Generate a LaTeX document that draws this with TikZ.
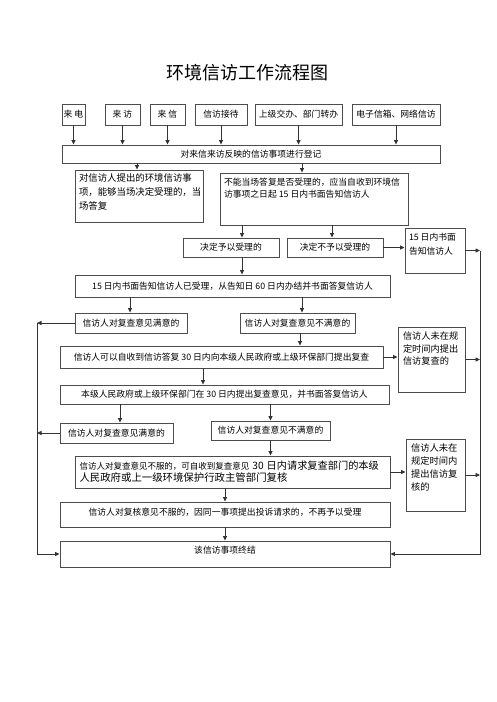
\documentclass[tikz,border=0pt]{standalone}
\usepackage{fontspec}
\setmainfont{Noto Sans CJK SC}
\usetikzlibrary{arrows.meta, calc}

\newcommand{\notetext}[3]{\parbox[c][#2][t]{#1}{\raggedright #3}}

\begin{document}
\begin{tikzpicture}[x=1pt, y=-1pt,
    box/.style={draw=black!70, line width=0.9pt, inner sep=0pt,
      align=center, fill=white},
    arrow/.style={-{Triangle[length=4.5pt, width=4pt]}, line width=0.8pt, black!80},
    font=\fontsize{8.8}{12}\selectfont,
]
    \path[fill=white, use as bounding box] (0,0) rectangle (496,702);

    % Title
    \node[font=\fontsize{18}{20}\selectfont] (title) at (247.5,73) {环境信访工作流程图};

    % Sources at top
    \node[box, minimum width=23pt, minimum height=21pt] (laidian) at (73.5,114.5) {来 电};
    \node[box, minimum width=35pt, minimum height=21pt] (laifang) at (122.5,114.5) {来 访};
    \node[box, minimum width=35pt, minimum height=21pt] (laixin) at (167.5,114.5) {来 信};
    \node[box, minimum width=52pt, minimum height=21pt] (jiedai) at (221,114.5) {信访接待};
    \node[box, minimum width=87pt, minimum height=21pt] (zhuanban) at (298.5,114.5) {上级交办、部门转办};
    \node[box, minimum width=88pt, minimum height=21pt] (wangluo) at (396,114.5) {电子信箱、网络信访};

    \node[box, minimum width=378pt, minimum height=18pt] (dengji) at (251,154)
      {对来信来访反映的信访事项进行登记};

    % Acceptance
    \node[box, minimum width=128pt, minimum height=52pt] (dangchang) at (139,196)
      {\notetext{120pt}{44pt}{\fontsize{9.4}{14}\selectfont 对信访人提出的环境信访事\\项，能够当场决定受理的，当\\场答复}};
    \node[box, minimum width=188pt, minimum height=52pt] (buneng) at (314,199)
      {\notetext{180pt}{42pt}{不能当场答复是否受理的，应当自收到环境信\\访事项之日起 15 日内书面告知信访人}};

    \node[box, minimum width=96pt, minimum height=19pt] (shouli) at (231,247.5) {决定予以受理的};
    \node[box, minimum width=96pt, minimum height=19pt] (bushouli) at (335,247.5) {决定不予以受理的};
    \node[box, minimum width=60pt, minimum height=45pt] (gaozhi) at (435,250.5)
      {\notetext{52pt}{35pt}{\fontsize{8.8}{14}\selectfont 15 日内书面\\告知信访人}};

    % First review
    \node[box, minimum width=315pt, minimum height=22pt] (banjie) at (232.5,286)
      {15 日内书面告知信访人已受理，从告知日 60 日内办结并书面答复信访人};
    \node[box, minimum width=112pt, minimum height=20pt] (manyi1) at (131,323) {信访人对复查意见满意的};
    \node[box, minimum width=115pt, minimum height=20pt] (bumanyi1) at (297.5,323) {信访人对复查意见不满意的};
    \node[box, minimum width=323pt, minimum height=22pt] (fucha) at (221.5,357)
      {信访人可以自收到信访答复 30 日内向本级人民政府或上级环保部门提出复查};
    \node[box, minimum width=67pt, minimum height=65pt] (weifucha) at (431.5,359.5)
      {\notetext{57pt}{55pt}{\fontsize{9.2}{12.5}\selectfont 信访人未在规\\定时间内提出\\信访复查的}};

    % Second review
    \node[box, minimum width=329pt, minimum height=19pt] (yijian) at (224.5,394.5)
      {本级人民政府或上级环保部门在 30 日内提出复查意见，并书面答复信访人};
    \node[box, minimum width=113pt, minimum height=20pt] (manyi2) at (116.5,433) {信访人对复查意见满意的};
    \node[box, minimum width=119pt, minimum height=19pt] (bumanyi2) at (270.5,430.5) {信访人对复查意见不满意的};
    \node[box, minimum width=315pt, minimum height=32pt, text width=306pt, align=left] (fuhe) at (232.5,472)
      {{\fontsize{8.5}{13}\selectfont 信访人对复查意见不服的，可自收到复查意见 }{\fontsize{10.2}{13}\selectfont 30 日内请求复查部门的本级}\\
       {\fontsize{10.4}{13}\selectfont 人民政府或上一级环境保护行政主管部门复核}};
    \node[box, minimum width=59pt, minimum height=72pt] (weifuhe) at (435.5,475)
      {\notetext{49pt}{62pt}{\fontsize{9.3}{13}\selectfont 信访人未在\\规定时间内\\提出信访复\\核的}};

    % End
    \node[box, minimum width=330pt, minimum height=25pt, text depth=5pt] (buzai) at (225,514.5)
      {信访人对复核意见不服的，因同一事项提出投诉请求的，不再予以受理};
    \node[box, minimum width=330pt, minimum height=26pt, text depth=8pt] (zhongjie) at (225,554) {该信访事项终结};

    \coordinate (lrail) at (37,0);
    \coordinate (rrail) at (480,0);

    % Arrows
    \foreach \src in {laidian, laifang, laixin, jiedai, zhuanban, wangluo}
      \draw[arrow] (\src) -- (\src |- dengji.north);
    \draw[arrow] (dengji.south -| 137,0) -- (dangchang.north -| 137,0);
    \draw[arrow] (dengji.south -| 302,0) -- (buneng.north -| 302,0);
    \draw[arrow] (buneng.south -| 242,0) -- (shouli.north -| 242,0);
    \draw[arrow] (buneng.south -| 332,0) -- (bushouli.north -| 332,0);
    \draw[arrow] (bushouli.east) -- (bushouli.east -| gaozhi.west);
    \draw[arrow] (shouli.south -| 242,0) -- (banjie.north -| 242,0);
    \draw[arrow] (banjie.south -| 130,0) -- (manyi1.north -| 130,0);
    \draw[arrow] (banjie.south -| 302,0) -- (bumanyi1.north -| 302,0);
    \draw[arrow] (bumanyi1.south -| 300,0) -- (fucha.north -| 300,0);
    \draw[arrow] (fucha.east) -- (fucha.east -| weifucha.west);
    \draw[arrow] (fucha.south -| 203,0) -- (yijian.north -| 203,0);
    \draw[arrow] (yijian.south -| 120,0) -- (manyi2.north -| 120,0);
    \draw[arrow] (yijian.south -| bumanyi2) -- (bumanyi2);
    \draw[arrow] (bumanyi2) -- (bumanyi2 |- fuhe.north);
    \draw[arrow] (fuhe.east) -- (fuhe.east -| weifuhe.west);
    \draw[arrow] (fuhe.south -| buzai) -- (buzai);
    \draw[arrow] (buzai) -- (zhongjie);

    % Left rail: satisfied
    \draw[arrow] (manyi1.west) -- (manyi1.west -| lrail);
    \draw[arrow] (manyi2.west) -- (manyi2.west -| lrail);
    \draw[arrow] (manyi1.west -| lrail) -- (zhongjie.west -| lrail) -- (zhongjie.west);

    % Right rail: no further request
    \draw[arrow] (gaozhi.east) -- (gaozhi.east -| rrail);
    \draw[arrow] (weifucha.east) -- (weifucha.east -| rrail);
    \draw[arrow] (weifuhe.east) -- (weifuhe.east -| rrail);
    \draw[arrow] (gaozhi.east -| rrail) -- (zhongjie.east -| rrail) -- (zhongjie.east);
\end{tikzpicture}
\end{document}
